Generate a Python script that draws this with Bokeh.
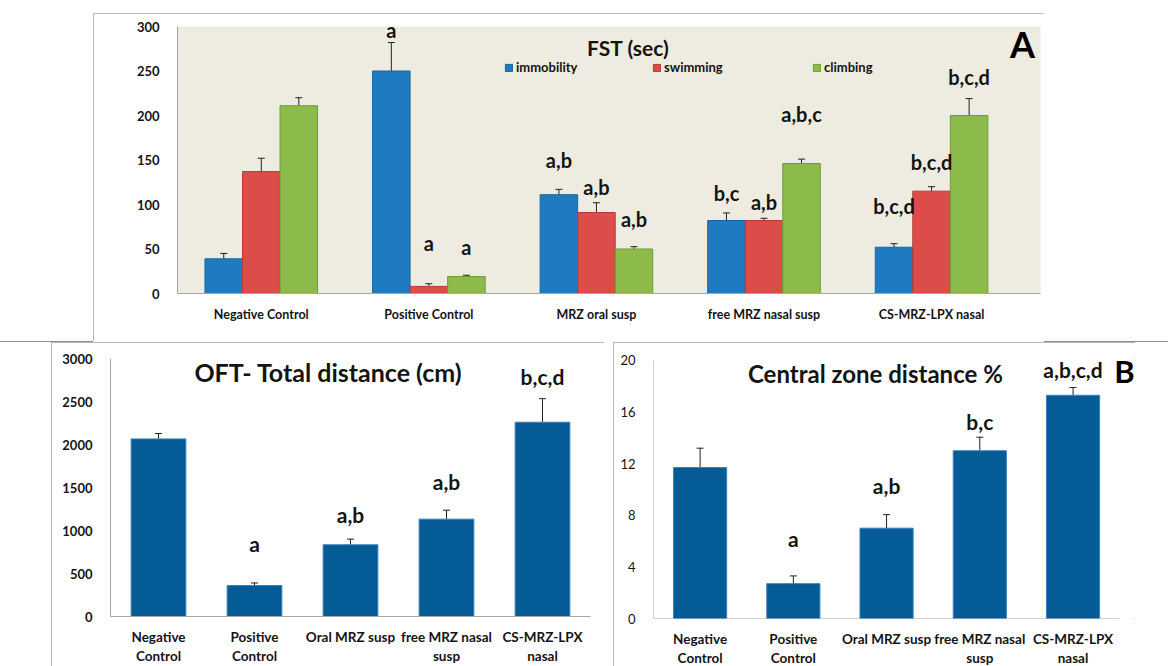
from bokeh.plotting import figure
from bokeh.models import (Range1d, FixedTicker, ColumnDataSource, Whisker, TeeHead,
                          LabelSet, Label, Legend, LegendItem, Spacer, Div)
from bokeh.layouts import column, row
from bokeh.embed import file_html
from bokeh.resources import INLINE
from bokeh.core.properties import value

# ---------------- data ----------------
groups_fst = ["Negative Control", "Positive Control", "MRZ oral susp",
              "free MRZ nasal susp", "CS-MRZ-LPX nasal"]
series_fst = ["immobility", "swimming", "climbing"]
immobility = [39, 250, 111, 82, 52]
immobility_err = [6, 32, 6, 8.5, 4]
swimming = [137, 8, 91, 82, 115]
swimming_err = [15, 3, 11, 2.5, 5]
climbing = [211, 19, 50, 146, 200]
climbing_err = [9, 1.5, 2.6, 5, 19]
sig_immobility = ["", "a", "a,b", "b,c", "b,c,d"]
sig_swimming = ["", "a", "a,b", "a,b", "b,c,d"]
sig_climbing = ["", "a", "a,b", "a,b,c", "b,c,d"]

groups_oft = ["Negative\nControl", "Positive\nControl", "Oral MRZ susp",
              "free MRZ nasal\nsusp", "CS-MRZ-LPX\nnasal"]
oft_total = [2065, 360, 834, 1132, 2259]
oft_err = [63, 30, 66, 104, 274]
sig_oft = ["", "a", "a,b", "a,b", "b,c,d"]

central_pct = [11.7, 2.7, 7.0, 13.0, 17.3]
central_err = [1.5, 0.6, 1.05, 1.05, 0.6]
sig_central = ["", "a", "a,b", "b,c", "a,b,c,d"]

fst_ticks = [0, 50, 100, 150, 200, 250, 300]
oft_ticks = [0, 500, 1000, 1500, 2000, 2500, 3000]
central_ticks = [0, 4, 8, 12, 16, 20]

# ---------------- styling ----------------
FONT = "Lato"
INK = "#141414"
AXIS_GREY = "#a6a6a6"
BOX = {"outline": "2px solid #a3a3a3", "outline-offset": "-2px"}
fst_colors = ["#1f7bc1", "#dc4c49", "#8dbb4b"]
fst_edges = ["#1a659f", "#b53936", "#6f9a35"]
bar_blue = "#045b96"

# pixel lift of each significance letter above its error cap
lift_immobility = [0, 13, 29, 20, 38]
lift_swimming = [0, 41, 16, 16, 25]
lift_climbing = [0, 28, 28, 45, 22]
lift_oft = [0, 39, 25, 29, 22]
lift_central = [0, 37, 29, 16, 18]


def style_axes(p, ticks, xlabels, y_bold=True, y_size="12px", x_size="12px",
               x_standoff=12, axis_lines=True):
    p.xgrid.grid_line_color = None
    p.ygrid.grid_line_color = None
    ya = p.yaxis[0]
    ya.ticker = FixedTicker(ticks=ticks)
    ya.axis_line_color = AXIS_GREY if axis_lines else None
    ya.major_tick_line_color = None
    ya.minor_tick_line_color = None
    ya.major_label_text_font = FONT
    ya.major_label_text_font_style = "bold" if y_bold else "normal"
    ya.major_label_text_font_size = y_size
    ya.major_label_text_color = INK
    ya.major_label_standoff = 12
    xa = p.xaxis[0]
    centers = [i + 0.5 for i in range(len(xlabels))]
    xa.ticker = FixedTicker(ticks=centers)
    xa.major_label_overrides = {c: lab for c, lab in zip(centers, xlabels)}
    xa.axis_line_color = AXIS_GREY if axis_lines else None
    xa.major_tick_line_color = None
    xa.minor_tick_line_color = None
    xa.major_label_text_font = FONT
    xa.major_label_text_font_style = "bold"
    xa.major_label_text_font_size = x_size
    xa.major_label_text_color = INK
    xa.major_label_standoff = x_standoff


def add_errors(p, xs, tops, errs, sig, lift, size):
    src = ColumnDataSource(dict(x=xs, lower=tops,
                                upper=[t + e for t, e in zip(tops, errs)],
                                sig=sig, lift=lift))
    p.add_layout(Whisker(base="x", lower="lower", upper="upper", source=src,
                         dimension="height", line_color="#202020", line_width=1,
                         upper_head=TeeHead(size=7, line_color="#202020", line_width=1),
                         lower_head=None))
    p.add_layout(LabelSet(x="x", y="upper", text="sig", y_offset="lift", source=src,
                          text_align="center", text_baseline="middle",
                          text_font=value(FONT), text_font_style="bold",
                          text_font_size=size, text_color=INK))


# ---------------- panel A: FST ----------------
pA = figure(width=951, height=328, x_range=Range1d(0, 5.15), y_range=Range1d(0, 300),
            output_backend="svg", toolbar_location=None,
            min_border_left=84, min_border_right=4, min_border_top=13, min_border_bottom=48,
            background_fill_color="#eeece1", border_fill_color="white",
            outline_line_color=None, styles=BOX)
style_axes(pA, fst_ticks, groups_fst, y_size="13px", x_size="12.5px", x_standoff=7)

centers_fst = [i + 0.5 for i in range(len(groups_fst))]
bw = 0.224
fst_vals = [immobility, swimming, climbing]
fst_errs = [immobility_err, swimming_err, climbing_err]
fst_sigs = [sig_immobility, sig_swimming, sig_climbing]
fst_lifts = [lift_immobility, lift_swimming, lift_climbing]
legend_x = [327, 475, 635]
for k in range(3):
    xs = [c + (k - 1) * bw for c in centers_fst]
    r = pA.vbar(x=xs, top=fst_vals[k], width=bw, fill_color=fst_colors[k],
                line_color=fst_edges[k], line_width=1)
    add_errors(pA, xs, fst_vals[k], fst_errs[k], fst_sigs[k], fst_lifts[k], "20px")
    pA.add_layout(Legend(items=[LegendItem(label=series_fst[k], renderers=[r])],
                         location=(legend_x[k], 218), orientation="horizontal",
                         background_fill_alpha=0, border_line_color=None,
                         padding=0, margin=0, glyph_width=9, glyph_height=9,
                         label_standoff=3, label_height=14,
                         label_text_font=FONT, label_text_font_style="bold",
                         label_text_font_size="13px", label_text_color=INK))

pA.add_layout(Label(x=2.69, y=276, text="FST (sec)", text_align="center",
                    text_baseline="middle", text_font=FONT, text_font_style="bold",
                    text_font_size="21px", text_color=INK))
pA.add_layout(Label(x=845, y=250, x_units="screen", y_units="screen", text="A",
                    text_align="center", text_baseline="middle", text_font=FONT,
                    text_font_style="bold", text_font_size="36px", text_color="black"))

# ---------------- panel B (left): OFT total distance ----------------
pB1 = figure(width=553, height=324, x_range=Range1d(0, 5), y_range=Range1d(0, 3000),
             output_backend="svg", toolbar_location=None,
             min_border_left=59, min_border_right=14, min_border_top=15, min_border_bottom=50,
             background_fill_color="white", border_fill_color="white",
             outline_line_color=None, styles=BOX)
style_axes(pB1, oft_ticks, groups_oft, y_bold=True, y_size="13px", x_size="13.5px",
           x_standoff=6)
centers_oft = [i + 0.5 for i in range(len(groups_oft))]
pB1.vbar(x=centers_oft, top=oft_total, width=0.57, fill_color=bar_blue,
         line_color="#3b7fb8", line_width=1)
add_errors(pB1, centers_oft, oft_total, oft_err, sig_oft, lift_oft, "21px")
pB1.add_layout(Label(x=2.27, y=2840, text="OFT- Total distance (cm)", text_align="center",
                     text_baseline="middle", text_font=FONT, text_font_style="bold",
                     text_font_size="25px", text_color=INK))

# ---------------- panel B (right): central zone distance ----------------
# the frame reaches the right edge so the panel letter fits inside it;
# the two axis lines are drawn only over the value range and the five bars
pB2 = figure(width=522, height=326, x_range=Range1d(0, 5.17), y_range=Range1d(0, 20.15),
             output_backend="svg", toolbar_location=None,
             min_border_left=40, min_border_right=0, min_border_top=16, min_border_bottom=48,
             background_fill_color="white", border_fill_color="white",
             outline_line_color=None, styles=BOX)
style_axes(pB2, central_ticks, groups_oft, y_bold=False, y_size="13px", x_size="13.5px",
           x_standoff=6, axis_lines=False)
pB2.segment(x0=[0, 0], y0=[0, 0], x1=[len(groups_oft), 0], y1=[0, central_ticks[-1]],
            line_color=AXIS_GREY, line_width=1)
pB2.vbar(x=centers_oft, top=central_pct, width=0.57, fill_color=bar_blue,
         line_color="#3b7fb8", line_width=1)
add_errors(pB2, centers_oft, central_pct, central_err, sig_central, lift_central, "21px")
pB2.add_layout(Label(x=2.38, y=19.0, text="Central zone distance %", text_align="center",
                     text_baseline="middle", text_font=FONT, text_font_style="bold",
                     text_font_size="24px", text_color=INK))
pB2.add_layout(Label(x=471, y=248, x_units="screen", y_units="screen", text="B",
                     text_align="center", text_baseline="middle", text_font=FONT,
                     text_font_style="bold", text_font_size="31px", text_color="black"))

# separator rule between the two figure rows
rule = Div(text="", width=1168, height=1, margin=0,
           styles={"background": "linear-gradient(to right, #5b9bd5 0px, #5b9bd5 93px, "
                                 "transparent 93px, transparent 1044px, #5b9bd5 1044px)"})

layout = column(
    Spacer(width=1168, height=13),
    row(Spacer(width=93, height=1), pA, Spacer(width=4, height=1)),
    rule,
    row(Spacer(width=51, height=1), pB1, Spacer(width=9, height=1), pB2,
        Spacer(width=4, height=1)),
)

open("out.html", "w").write(file_html(layout, INLINE))
